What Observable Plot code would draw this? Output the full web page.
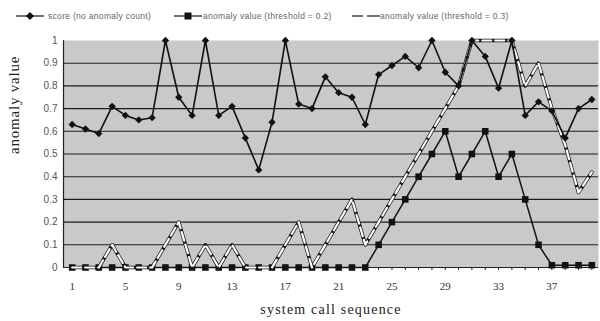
<!DOCTYPE html>
<html><head><meta charset="utf-8">
<script src="https://cdn.jsdelivr.net/npm/d3@7"></script>
<script src="https://cdn.jsdelivr.net/npm/@observablehq/plot@0.6"></script>
<style>
html,body{margin:0;padding:0;background:#fff;width:600px;height:321px;overflow:hidden}
#legend{position:relative;width:600px;height:30px;font-family:"Liberation Sans",Arial,sans-serif;font-size:8.5px;color:#666}
#legend svg{position:absolute;top:0}
#legend span{position:absolute;top:11px;white-space:nowrap;letter-spacing:0.3px}
#chart svg{display:block}
</style></head><body>
<div id="legend"></div>
<div id="chart"></div>
<script>
// ---- data ----
const seq = d3.range(1, 41);
const score = [0.63,0.61,0.59,0.71,0.67,0.65,0.66,1.0,0.75,0.67,
               1.0,0.67,0.71,0.57,0.43,0.64,1.0,0.72,0.70,0.84,
               0.77,0.75,0.63,0.85,0.89,0.93,0.88,1.0,0.86,0.80,
               1.0,0.93,0.79,1.0,0.67,0.73,0.69,0.57,0.70,0.74];
const thr02 = [0,0,0,0,0,0,0,0,0,0,
               0,0,0,0,0,0,0,0,0,0,
               0,0,0,0.1,0.2,0.3,0.4,0.5,0.6,0.4,
               0.5,0.6,0.4,0.5,0.3,0.1,0.01,0.01,0.01,0.01];
const thr03 = [0,0,0,0.1,0,0,0,0.1,0.2,0,
               0.1,0,0.1,0,0,0,0.1,0.2,0,0.1,
               0.2,0.3,0.1,0.2,0.3,0.4,0.5,0.6,0.7,0.8,
               1.0,1.0,1.0,1.0,0.8,0.9,0.7,0.54,0.33,0.42];
const seriesNames = ["score (no anomaly count)", "anomaly value (threshold = 0.2)", "anomaly value (threshold = 0.3)"];
const xTicks = [1,5,9,13,17,21,25,29,33,37];
const yTicks = [0,0.1,0.2,0.3,0.4,0.5,0.6,0.7,0.8,0.9,1];
const yTickLabels = ["0","0.1","0.2","0.3","0.4","0.5","0.6","0.7","0.8","0.9","1"];
const xTitle = "system call sequence";
const yTitle = "anomaly value";
const xDomain = [0.35, 40.5];

const rows = seq.map((s, i) => ({seq: s, score: score[i], t2: thr02[i], t3: thr03[i]}));
const yLab = new Map(yTicks.map((t, i) => [t, yTickLabels[i]]));

// ---- legend ----
const legend = d3.select("#legend");
const legendPos = [[14, 48], [172, 203], [350, 380]];
seriesNames.forEach((name, i) => {
  const [sx, tx] = legendPos[i];
  const s = legend.append("svg").attr("width", 32).attr("height", 30).style("left", sx + "px");
  if (i === 2) {
    s.append("line").attr("x1", 2).attr("x2", 13).attr("y1", 16).attr("y2", 16).attr("stroke", "#222").attr("stroke-width", 1.3);
    s.append("line").attr("x1", 17).attr("x2", 30).attr("y1", 16).attr("y2", 16).attr("stroke", "#222").attr("stroke-width", 1.3);
  } else {
    s.append("line").attr("x1", 2).attr("x2", 30).attr("y1", 16).attr("y2", 16).attr("stroke", "#222").attr("stroke-width", 1.3);
    if (i === 0) s.append("path").attr("d", "M16,12L20,16L16,20L12,16Z").attr("fill", "#111");
    else s.append("rect").attr("x", 12.5).attr("y", 12.5).attr("width", 7).attr("height", 7).attr("fill", "#111");
  }
  legend.append("span").style("left", tx + "px").text(name);
});

// ---- chart ----
const chart = Plot.plot({
  width: 600,
  height: 291,
  marginLeft: 63,
  marginRight: 2,
  marginTop: 10,
  marginBottom: 54,
  x: {domain: xDomain, axis: null},
  y: {domain: [0, 1], axis: null},
  style: {background: "transparent", overflow: "visible"},
  marks: [
    Plot.frame({fill: "#c9c9c9", stroke: null}),
    Plot.ruleY(yTicks.slice(1, -1), {stroke: "#1c1c1c", strokeWidth: 1.1}),
    Plot.ruleX([xDomain[0]], {stroke: "#222", strokeWidth: 1.2}),
    Plot.ruleY([0], {stroke: "#222", strokeWidth: 1.2}),
    Plot.axisY(yTicks, {tickSize: 0, tickPadding: 6, tickFormat: d => yLab.get(d), fontSize: 10,
      fontFamily: "Liberation Sans, Arial, sans-serif", fill: "#555", label: null}),
    Plot.axisX(seq, {tickSize: 3, tickFormat: () => "", stroke: "#222", label: null}),
    Plot.axisX(xTicks, {tickSize: 0, tickPadding: 15, fontSize: 11,
      fontFamily: "Liberation Serif, Times New Roman, serif", fill: "#333", label: null}),
    Plot.text([yTitle], {frameAnchor: "left", dx: -49, rotate: -90, fontSize: 15,
      fontFamily: "Liberation Serif, Times New Roman, serif", fill: "#222"}),
    Plot.text([xTitle], {frameAnchor: "bottom", dy: 46, fontSize: 14,
      fontFamily: "Liberation Serif, Times New Roman, serif", fill: "#222"}),
    // threshold 0.2 series
    Plot.line(rows, {x: "seq", y: "t2", stroke: "#111", strokeWidth: 1.5}),
    Plot.dot(rows, {x: "seq", y: "t2", symbol: "square", r: 3.7, fill: "#111", stroke: null}),
    // threshold 0.3 series (light dashed line)
    Plot.line(rows, {x: "seq", y: "t3", stroke: "#151515", strokeWidth: 3.6}),
    Plot.line(rows, {x: "seq", y: "t3", stroke: "#fff", strokeWidth: 2.2, strokeDasharray: "9,4"}),
    // score series
    Plot.line(rows, {x: "seq", y: "score", stroke: "#111", strokeWidth: 1.6}),
    Plot.dot(rows, {x: "seq", y: "score", symbol: "diamond2", r: 3.3, fill: "#111", stroke: null})
  ]
});
document.getElementById("chart").appendChild(chart);
d3.select(chart).selectAll("text").filter(function() { return this.textContent === xTitle; })
  .style("letter-spacing", "1.2px");
d3.select(chart).selectAll("text").filter(function() { return this.textContent === yTitle; })
  .style("letter-spacing", "0.8px");
</script>
</body></html>
